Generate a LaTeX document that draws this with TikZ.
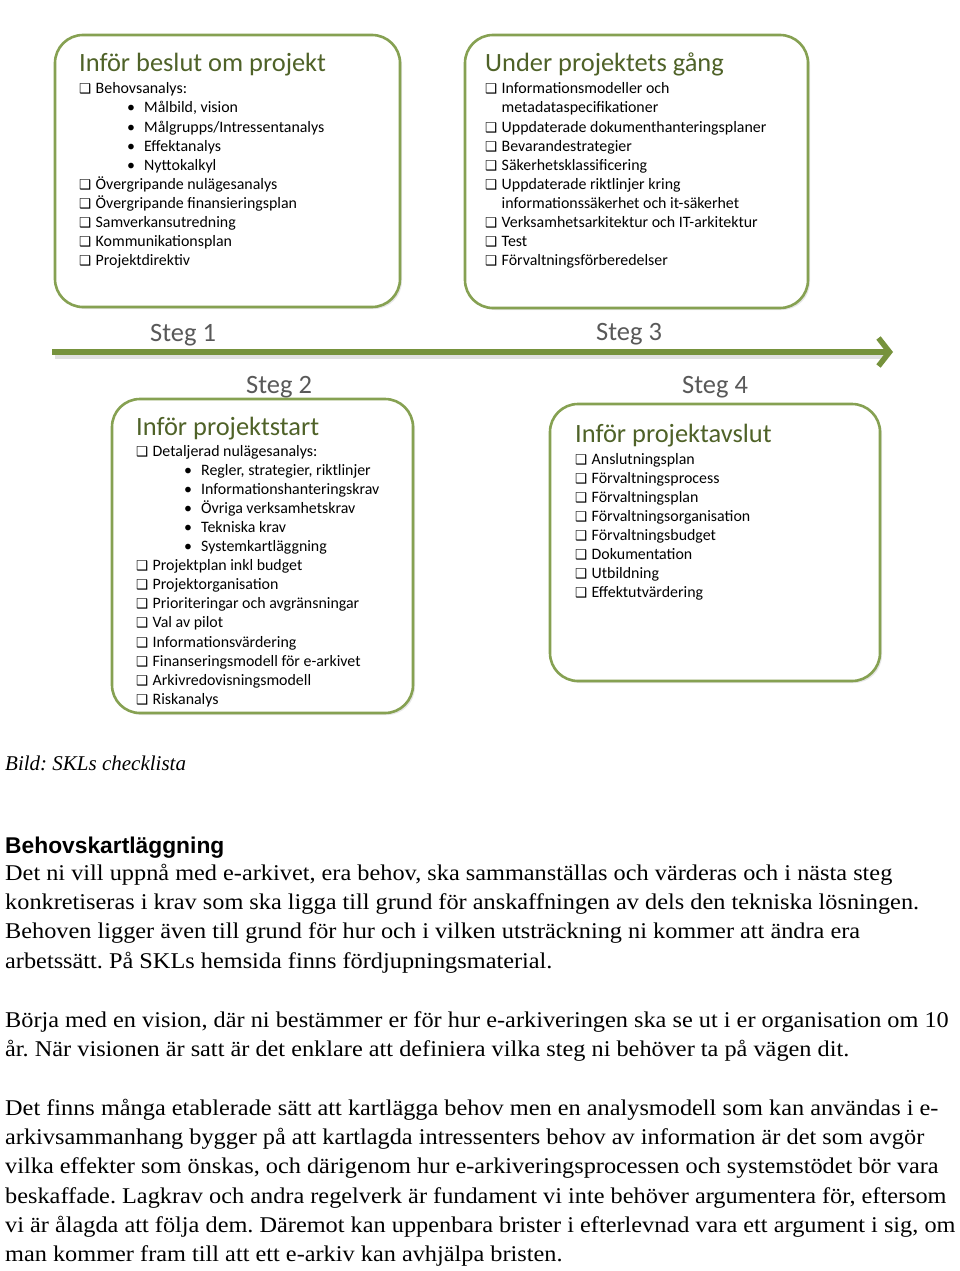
\documentclass[tikz,border=0pt]{standalone}
\usepackage{fontspec}
\setmainfont{Liberation Serif}
\newfontfamily\bodyfont[FakeStretch=1.08]{Liberation Serif}
\newfontfamily\calibri{Carlito}
\newfontfamily\arialfont{Liberation Sans}
\newfontfamily\symbfont{DejaVu Sans}
\usetikzlibrary{positioning,calc,arrows.meta,shadows}
\frenchspacing

\definecolor{cardgreen}{HTML}{86A152}
\definecolor{titlegreen}{HTML}{4F6228}
\definecolor{arrowgreen}{HTML}{76923C}
\definecolor{steggray}{HTML}{595959}

% checkbox, bullet and continuation marks for the list lines
\newcommand\chk{{\symbfont\fontsize{13.5}{14}\selectfont ❑}}
\newcommand\mk[1]{\if#1c\makebox[16.5pt][l]{\chk}\fi
  \if#1b\hspace{48pt}\makebox[17pt][l]{•}\fi
  \if#1n\hspace{16.5pt}\fi}

\begin{document}
\begin{tikzpicture}[x=1pt,y=-1pt,
    card/.style={draw=cardgreen,line width=2.6pt,rounded corners=28pt,fill=white,
      drop shadow={shadow xshift=2pt,shadow yshift=-2pt,opacity=0.2}},
    cardtitle/.style={anchor=base west,inner sep=0pt,text=titlegreen,
      font=\calibri\fontsize{26.4}{26}\selectfont},
    item/.style={anchor=base west,inner sep=0pt,font=\calibri\fontsize{15.9}{16}\selectfont},
    stegl/.style={anchor=base west,inner sep=0pt,text=steggray,
      font=\calibri\fontsize{26.5}{26}\selectfont},
    timeline/.style={draw=arrowgreen,line width=6pt,
      -{Straight Barb[length=11pt,width=28pt,line width=5.5pt]}},
    body/.style={anchor=base west,inner sep=0pt,font=\bodyfont\fontsize{22.5}{22}\selectfont}
    ]
\useasboundingbox (0,0) rectangle (960,1271);

% Steg 1 (top left)
\draw[card] (55,35) rectangle (400,307);
\node[cardtitle] (t1) at (79,72) {Inför beslut om projekt};
\foreach \kind/\txt [count=\i from 0] in {c/Behovsanalys:,b/{Målbild, vision},
    b/{Målgrupps/Intressentanalys},b/Effektanalys,b/Nyttokalkyl,
    c/Övergripande nulägesanalys,c/Övergripande finansieringsplan,
    c/Samverkansutredning,c/Kommunikationsplan,c/Projektdirektiv}
  \node[item] (s1-\i) at (79,{94+19*\i}) {\mk{\kind}\txt};

% Steg 3 (top right)
\draw[card] (465,35) rectangle (808,308);
\node[cardtitle] (t3) at (485,72) {Under projektets gång};
\foreach \kind/\txt [count=\i from 0] in {c/Informationsmodeller och,
    n/metadataspecifikationer,c/Uppdaterade dokumenthanteringsplaner,
    c/Bevarandestrategier,c/Säkerhetsklassificering,
    c/Uppdaterade riktlinjer kring,n/informationssäkerhet och it-säkerhet,
    c/Verksamhetsarkitektur och IT-arkitektur,c/Test,c/Förvaltningsförberedelser}
  \node[item] (s3-\i) at (485,{94+19*\i}) {\mk{\kind}\txt};

% Timeline
\coordinate (tl-start) at (52,352);
\coordinate (tl-end) at (893,352);
\draw[line width=6pt,black,opacity=0.12] ($(tl-start)+(3,4)$) -- ($(tl-end)+(-8,4)$);
\draw[timeline] (tl-start) -- (tl-end);
\node[stegl] (steg1) at (150,341) {Steg 1};
\node[stegl] (steg3) at (596,340) {Steg 3};
\node[stegl] (steg2) at (246,393) {Steg 2};
\node[stegl] (steg4) at (682,393) {Steg 4};

% Steg 2 (bottom left)
\draw[card] (112,399) rectangle (413,713);
\node[cardtitle] (t2) at (136,435) {Inför projektstart};
\foreach \kind/\txt [count=\i from 0] in {c/Detaljerad nulägesanalys:,
    b/{Regler, strategier, riktlinjer},b/Informationshanteringskrav,
    b/Övriga verksamhetskrav,b/Tekniska krav,b/Systemkartläggning,
    c/Projektplan inkl budget,c/Projektorganisation,
    c/Prioriteringar och avgränsningar,c/Val av pilot,c/Informationsvärdering,
    c/Finanseringsmodell för e-arkivet,c/Arkivredovisningsmodell,c/Riskanalys}
  \node[item] (s2-\i) at (136,{456+19.1*\i}) {\mk{\kind}\txt};

% Steg 4 (bottom right)
\draw[card] (550,404) rectangle (880,681);
\node[cardtitle] (t4) at (575,442) {Inför projektavslut};
\foreach \kind/\txt [count=\i from 0] in {c/Anslutningsplan,c/Förvaltningsprocess,
    c/Förvaltningsplan,c/Förvaltningsorganisation,c/Förvaltningsbudget,
    c/Dokumentation,c/Utbildning,c/Effektutvärdering}
  \node[item] (s4-\i) at (575,{464+19*\i}) {\mk{\kind}\txt};

% Caption and text below
\node[body,font=\itshape\fontsize{21}{21}\selectfont] (caption) at (5,770) {Bild: SKLs checklista};
\node[body,font=\arialfont\bfseries\fontsize{22.8}{22}\selectfont] (heading) at (5,853) {Behovskartläggning};
\node[body] (p1-1) at (5,880) {Det ni vill uppnå med e-arkivet, era behov, ska sammanställas och värderas och i nästa steg};
\node[body] (p1-2) at (5,909) {konkretiseras i krav som ska ligga till grund för anskaffningen av dels den tekniska lösningen.};
\node[body] (p1-3) at (5,938) {Behoven ligger även till grund för hur och i vilken utsträckning ni kommer att ändra era};
\node[body] (p1-4) at (5,968) {arbetssätt. På SKLs hemsida finns fördjupningsmaterial.};
\node[body] (p2-1) at (5,1027) {Börja med en vision, där ni bestämmer er för hur e-arkiveringen ska se ut i er organisation om 10};
\node[body] (p2-2) at (5,1056) {år. När visionen är satt är det enklare att definiera vilka steg ni behöver ta på vägen dit.};
\node[body] (p3-1) at (5,1115) {Det finns många etablerade sätt att kartlägga behov men en analysmodell som kan användas i e-};
\node[body] (p3-2) at (5,1144) {arkivsammanhang bygger på att kartlagda intressenters behov av information är det som avgör};
\node[body] (p3-3) at (5,1173) {vilka effekter som önskas, och därigenom hur e-arkiveringsprocessen och systemstödet bör vara};
\node[body] (p3-4) at (5,1203) {beskaffade. Lagkrav och andra regelverk är fundament vi inte behöver argumentera för, eftersom};
\node[body] (p3-5) at (5,1232) {vi är ålagda att följa dem. Däremot kan uppenbara brister i efterlevnad vara ett argument i sig, om};
\node[body] (p3-6) at (5,1261) {man kommer fram till att ett e-arkiv kan avhjälpa bristen.};

\end{tikzpicture}
\end{document}
